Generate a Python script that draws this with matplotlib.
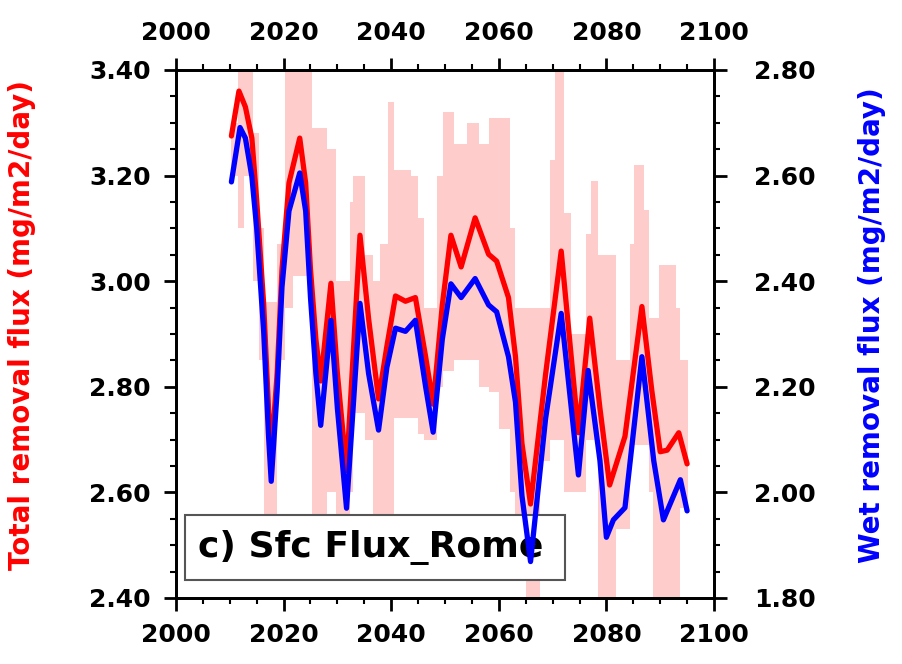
import matplotlib
matplotlib.use('Agg')
import matplotlib.pyplot as plt
from matplotlib.ticker import MultipleLocator, FormatStrFormatter
from matplotlib.patches import Rectangle

# Total removal flux (red, left axis)
red_years = [2010.3, 2011.7, 2012.9, 2014.1, 2015.0, 2016.3, 2017.2, 2017.7, 2018.8, 2019.7,
             2021.0, 2023.0, 2024.1, 2025.0, 2026.0, 2026.9, 2028.8, 2030.0, 2031.7, 2034.2,
             2035.8, 2037.65, 2039.2, 2040.8, 2042.65, 2044.5, 2046.4, 2047.8, 2049.5, 2051.1,
             2053.0, 2055.6, 2058.1, 2059.6, 2061.8, 2063.1, 2064.3, 2065.9, 2068.7, 2071.6,
             2074.8, 2076.9, 2078.8, 2080.6, 2083.45, 2086.6, 2088.45, 2090.0, 2091.3, 2093.45,
             2095.0]
total_flux = [3.275, 3.360, 3.330, 3.271, 3.153, 2.956, 2.758, 2.670, 2.825, 3.022,
              3.186, 3.271, 3.186, 3.022, 2.890, 2.811, 2.996, 2.825, 2.641, 3.087,
              2.929, 2.777, 2.877, 2.972, 2.962, 2.969, 2.857, 2.767, 2.955, 3.087,
              3.027, 3.120, 3.051, 3.038, 2.969, 2.857, 2.693, 2.578, 2.824, 3.057,
              2.713, 2.930, 2.759, 2.614, 2.706, 2.952, 2.792, 2.677, 2.680, 2.713,
              2.654]

# Wet removal flux (blue, right axis)
blue_years = [2010.3, 2011.9, 2012.9, 2014.1, 2015.0, 2016.3, 2017.2, 2017.7, 2018.8, 2019.7,
              2021.0, 2023.0, 2024.1, 2025.0, 2026.0, 2026.9, 2028.8, 2030.0, 2031.7, 2034.2,
              2035.8, 2037.65, 2039.2, 2040.8, 2042.65, 2044.5, 2046.4, 2047.8, 2049.5, 2051.1,
              2053.0, 2055.6, 2058.1, 2059.6, 2061.8, 2063.1, 2064.3, 2065.9, 2068.7, 2071.6,
              2074.8, 2076.6, 2078.8, 2080.0, 2081.3, 2083.45, 2086.6, 2088.8, 2090.6, 2093.75,
              2095.0]
wet_flux = [2.588, 2.691, 2.671, 2.598, 2.500, 2.304, 2.107, 2.021, 2.192, 2.389,
            2.533, 2.605, 2.533, 2.369, 2.225, 2.127, 2.326, 2.159, 1.970, 2.358,
            2.225, 2.118, 2.237, 2.311, 2.305, 2.326, 2.200, 2.114, 2.290, 2.395,
            2.369, 2.405, 2.355, 2.342, 2.257, 2.171, 1.994, 1.869, 2.140, 2.339,
            2.033, 2.231, 2.060, 1.915, 1.948, 1.971, 2.257, 2.060, 1.948, 2.024,
            1.965]

# Ensemble spread of total flux, as steps starting at each edge
band_edges = [2010.3, 2011.5, 2012.6, 2014.3, 2015.4, 2016.4, 2018.7, 2020.2, 2021.8, 2025.2,
              2028.0, 2029.8, 2032.3, 2032.9, 2035.1, 2036.6, 2037.9, 2039.4, 2040.6, 2043.6,
              2044.9, 2046.1, 2048.6, 2049.6, 2051.6, 2054.0, 2056.4, 2058.1, 2060.1, 2062.1,
              2063.1, 2065.1, 2067.6, 2069.6, 2070.4, 2072.2, 2073.4, 2076.2, 2077.1, 2078.4,
              2081.8, 2084.3, 2085.2, 2087.0, 2088.0, 2088.6, 2089.8, 2092.9, 2093.6, 2095.2]
band_upper = [3.30, 3.45, 3.45, 3.28, 3.10, 2.96, 3.07, 3.45, 3.45, 3.29,
              3.25, 3.00, 3.15, 3.20, 3.05, 3.00, 3.07, 3.34, 3.21, 3.20,
              3.12, 2.95, 3.20, 3.32, 3.26, 3.30, 3.26, 3.31, 3.31, 3.10,
              2.95, 2.95, 2.95, 3.23, 3.45, 3.13, 2.90, 3.09, 3.19, 3.05,
              2.85, 3.07, 3.22, 3.135, 2.93, 2.93, 3.03, 2.95, 2.85]
band_lower = [3.20, 3.10, 3.20, 3.00, 2.85, 2.50, 2.85, 2.95, 3.01, 2.50,
              2.60, 2.55, 2.60, 2.75, 2.70, 2.50, 2.50, 2.55, 2.74, 2.74,
              2.71, 2.70, 2.80, 2.83, 2.85, 2.85, 2.80, 2.79, 2.72, 2.60,
              2.45, 2.35, 2.66, 2.70, 2.70, 2.60, 2.60, 2.70, 2.70, 2.35,
              2.53, 2.69, 2.69, 2.69, 2.60, 2.35, 2.35, 2.40, 2.57]

plt.rcParams['font.family'] = 'DejaVu Sans'
plt.rcParams['font.weight'] = 'bold'

fig = plt.figure(figsize=(9.03, 6.64), dpi=100)
ax = fig.add_axes([0.1949, 0.0994, 0.5958, 0.7952])
ax2 = ax.twinx()

ax.fill_between(band_edges, band_upper + [band_upper[-1]], band_lower + [band_lower[-1]],
                step='post', color='#ffcccc', lw=0, zorder=1)
ax.add_patch(Rectangle((0.0167, 0.034), 0.706, 0.123, transform=ax.transAxes,
                       facecolor='white', edgecolor='#555555', lw=1.5, zorder=3))
ax.text(0.041, 0.095, 'c) Sfc Flux_Rome', transform=ax.transAxes, fontsize=26,
        fontweight='bold', va='center', ha='left', zorder=3.5)
ax.plot(red_years, total_flux, color='#ff0000', lw=3.8, zorder=4,
        solid_joinstyle='round', solid_capstyle='round')
ax2.plot(blue_years, wet_flux, color='#0000ff', lw=3.8,
         solid_joinstyle='round', solid_capstyle='round')

ax.set_xlim(2000, 2100)
ax.set_ylim(2.4, 3.4)
ax2.set_ylim(1.8, 2.8)

ax.xaxis.set_major_locator(MultipleLocator(20))
ax.xaxis.set_minor_locator(MultipleLocator(5))
for a in (ax, ax2):
    a.yaxis.set_major_locator(MultipleLocator(0.2))
    a.yaxis.set_minor_locator(MultipleLocator(0.05))
    a.yaxis.set_major_formatter(FormatStrFormatter('%.2f'))
    a.tick_params(which='major', direction='out', length=9, width=2, pad=9, labelsize=18)
    a.tick_params(which='minor', direction='out', length=4.5, width=1.5)
    for s in a.spines.values():
        s.set_linewidth(2)
ax.tick_params(axis='x', which='both', top=True, labeltop=True)
ax2.tick_params(axis='y', which='major', pad=20)

fig.text(22 / 903, 1 - 325 / 664, 'Total removal flux (mg/m2/day)', color='#ff0000',
         rotation=90, ha='center', va='center', fontsize=20, fontweight='bold')
fig.text(872 / 903, 1 - 325 / 664, 'Wet removal flux (mg/m2/day)', color='#0000ff',
         rotation=90, ha='center', va='center', fontsize=20, fontweight='bold')

fig.savefig('out.png', dpi=100)
